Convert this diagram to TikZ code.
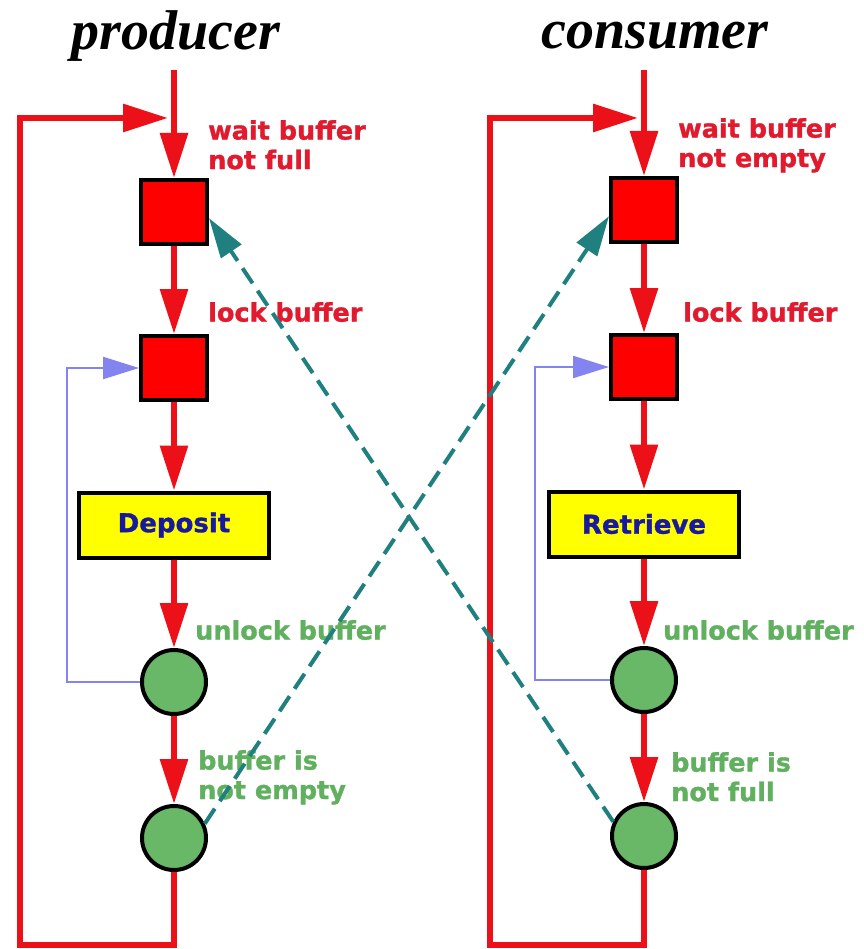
\documentclass[tikz,border=0pt]{standalone}
\usepackage{fontspec}
\usetikzlibrary{arrows.meta}
\newfontfamily\lblfont{DejaVu Sans}[FakeBold=1.2]
\newfontfamily\ttlfont{Liberation Serif}
\definecolor{flowred}{RGB}{236,16,24}
\definecolor{lblred}{RGB}{226,26,46}
\definecolor{boxred}{RGB}{255,0,0}
\definecolor{dotgreen}{RGB}{104,184,104}
\definecolor{lblgreen}{RGB}{96,176,96}
\definecolor{sigteal}{RGB}{32,128,128}
\definecolor{fbblue}{RGB}{132,132,240}
\definecolor{txtblue}{RGB}{24,24,160}
\definecolor{boxyellow}{RGB}{255,255,0}
\begin{document}
\begin{tikzpicture}[x=1pt,y=-1pt,
  redline/.style={draw=flowred, line width=6pt, line join=miter},
  flow/.style={redline, -{Triangle[length=45pt,width=27pt]}},
  fb/.style={draw=fbblue, line width=2.2pt, line join=miter, -{Triangle[length=36pt,width=22pt]}},
  sig/.style={draw=sigteal, line width=4pt, dash pattern=on 18pt off 9pt, -{Triangle[length=40pt,width=24pt]}},
  sq/.style={rectangle, draw=black, line width=4pt, fill=boxred, minimum width=66pt, minimum height=64pt, inner sep=0pt},
  actbox/.style={rectangle, draw=black, line width=4pt, fill=boxyellow, minimum width=190pt, minimum height=65pt, inner sep=0pt, text=txtblue, font=\lblfont\bfseries\fontsize{26}{30}\selectfont},
  dot/.style={circle, draw=black, line width=4pt, fill=dotgreen, minimum size=64pt, inner sep=0pt},
  lbl/.style={anchor=north west, inner sep=0pt, align=left, font=\lblfont\bfseries\fontsize{25.5}{29.5}\selectfont},
  rlbl/.style={lbl, text=lblred},
  glbl/.style={lbl, text=lblgreen},
  ttl/.style={anchor=base, inner sep=0pt, font=\ttlfont\bfseries\itshape\fontsize{56}{60}\selectfont}
]
\useasboundingbox (0,0) rectangle (863,949);
\fill[white] (0,0) rectangle (863,949);

% titles
\node[ttl] (tprod) at (176,50) {producer};
\node[ttl] (tcons) at (655,49) {consumer};

% producer nodes
\node[sq] (ps1) at (174,212) {};
\node[sq] (ps2) at (174,368) {};
\node[actbox] (pdep) at (174,525) {Deposit};
\node[dot] (pc1) at (174,682) {};
\node[dot] (pc2) at (174,838) {};

% consumer nodes
\node[sq] (cs1) at (644,210) {};
\node[sq] (cs2) at (644,367) {};
\node[actbox] (cret) at (644,524) {Retrieve};
\node[dot] (cc1) at (644,680) {};
\node[dot] (cc2) at (644,836) {};

% helper coordinates
\coordinate (ptop) at (174,70);
\coordinate (pbot) at (174,945);
\coordinate (pbl) at (20,945);
\coordinate (ptl) at (20,118);
\coordinate (pjoin) at (168,118);
\coordinate (pfb) at (67,500);

\coordinate (ctop) at (644,70);
\coordinate (cbot) at (644,945);
\coordinate (cbl) at (490,945);
\coordinate (ctl) at (490,118);
\coordinate (cjoin) at (638,118);
\coordinate (cfb) at (535,500);

% producer flow
\draw[flow] (ptop) -- (ps1.north);
\draw[flow] (ps1.south) -- (ps2.north);
\draw[flow] (ps2.south) -- (pdep.north);
\draw[flow] (pdep.south) -- (pc1.north);
\draw[flow] (pc1.south) -- (pc2.north);
\draw[flow] (pc2.south) -- (pbot) -- (pbl) -- (ptl) -- (pjoin);
\draw[fb] (pc1.west) -| (pfb) |- (ps2.west);

% consumer flow
\draw[flow] (ctop) -- (cs1.north);
\draw[flow] (cs1.south) -- (cs2.north);
\draw[flow] (cs2.south) -- (cret.north);
\draw[flow] (cret.south) -- (cc1.north);
\draw[flow] (cc1.south) -- (cc2.north);
\draw[flow] (cc2.south) -- (cbot) -- (cbl) -- (ctl) -- (cjoin);
\draw[fb] (cc1.west) -| (cfb) |- (cs2.west);

% labels
\node[rlbl] (lp1) at (208,120) {wait buffer\\not full};
\node[rlbl] (lp2) at (208,302) {lock buffer};
\node[glbl] (lp3) at (195,620) {unlock buffer};
\node[glbl] (lp4) at (198,750) {buffer is\\not empty};

\node[rlbl] (lc1) at (678,118) {wait buffer\\not empty};
\node[rlbl] (lc2) at (683,302) {lock buffer};
\node[glbl] (lc3) at (663,620) {unlock buffer};
\node[glbl] (lc4) at (671,752) {buffer is\\not full};

% signals
\draw[sig] (pc2.25) -- (cs1.190);
\draw[sig] (cc2.155) -- (ps1.-10);
\end{tikzpicture}
\end{document}
